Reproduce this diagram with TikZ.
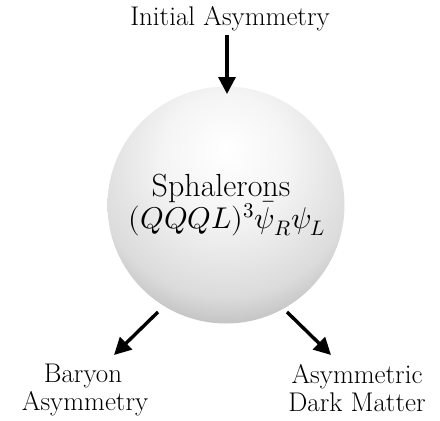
\documentclass[tikz,border=0pt]{standalone}
\usepackage{fontspec}
\usepackage{unicode-math}
\setmathfont{Latin Modern Math}
\usetikzlibrary{arrows.meta}
\pgfdeclareradialshading{sphshade}{\pgfpoint{0bp}{12bp}}{%
  color(0bp)=(white);
  color(13bp)=(black!4);
  color(28bp)=(black!14);
  color(37bp)=(black!30);
  color(100bp)=(black!30)}
\tikzset{
  lbl/.style={font=\fontsize{27}{28}\selectfont, inner sep=0pt, anchor=base},
  sphtext/.style={font=\fontsize{32}{34}\selectfont, inner sep=0pt, anchor=base},
  mathtext/.style={font=\fontsize{30}{32}\selectfont, inner sep=0pt, anchor=base},
  arr/.style={line width=3.4pt, -{Triangle[length=17pt,width=17pt]}},
}
\begin{document}
\begin{tikzpicture}[x=1pt,y=-1pt]
\useasboundingbox (0,0) rectangle (440,421);
\node[circle, minimum size=237pt, inner sep=0pt, shading=sphshade] (sph) at (226,205) {};
\node[lbl] (init) at (230,25) {Initial Asymmetry};
\node[sphtext] (sname) at (221,196) {Sphalerons};
\node[mathtext] (sform) at (227,228) {$(QQQL)^3\bar{\psi}_R\psi_L$};
\node[lbl] (bary1) at (83,382) {Baryon};
\node[lbl] (bary2) at (85,410) {Asymmetry};
\node[lbl] (adm1) at (357,383) {Asymmetric};
\node[lbl] (adm2) at (357,411) {Dark Matter};
\coordinate (a1s) at (227,35);
\coordinate (a1e) at (227,94);
\coordinate (a2s) at (158,312);
\coordinate (a2e) at (114,355);
\coordinate (a3s) at (287,312);
\coordinate (a3e) at (331,355);
\draw[arr] (a1s) -- (a1e);
\draw[arr] (a2s) -- (a2e);
\draw[arr] (a3s) -- (a3e);
\end{tikzpicture}
\end{document}
